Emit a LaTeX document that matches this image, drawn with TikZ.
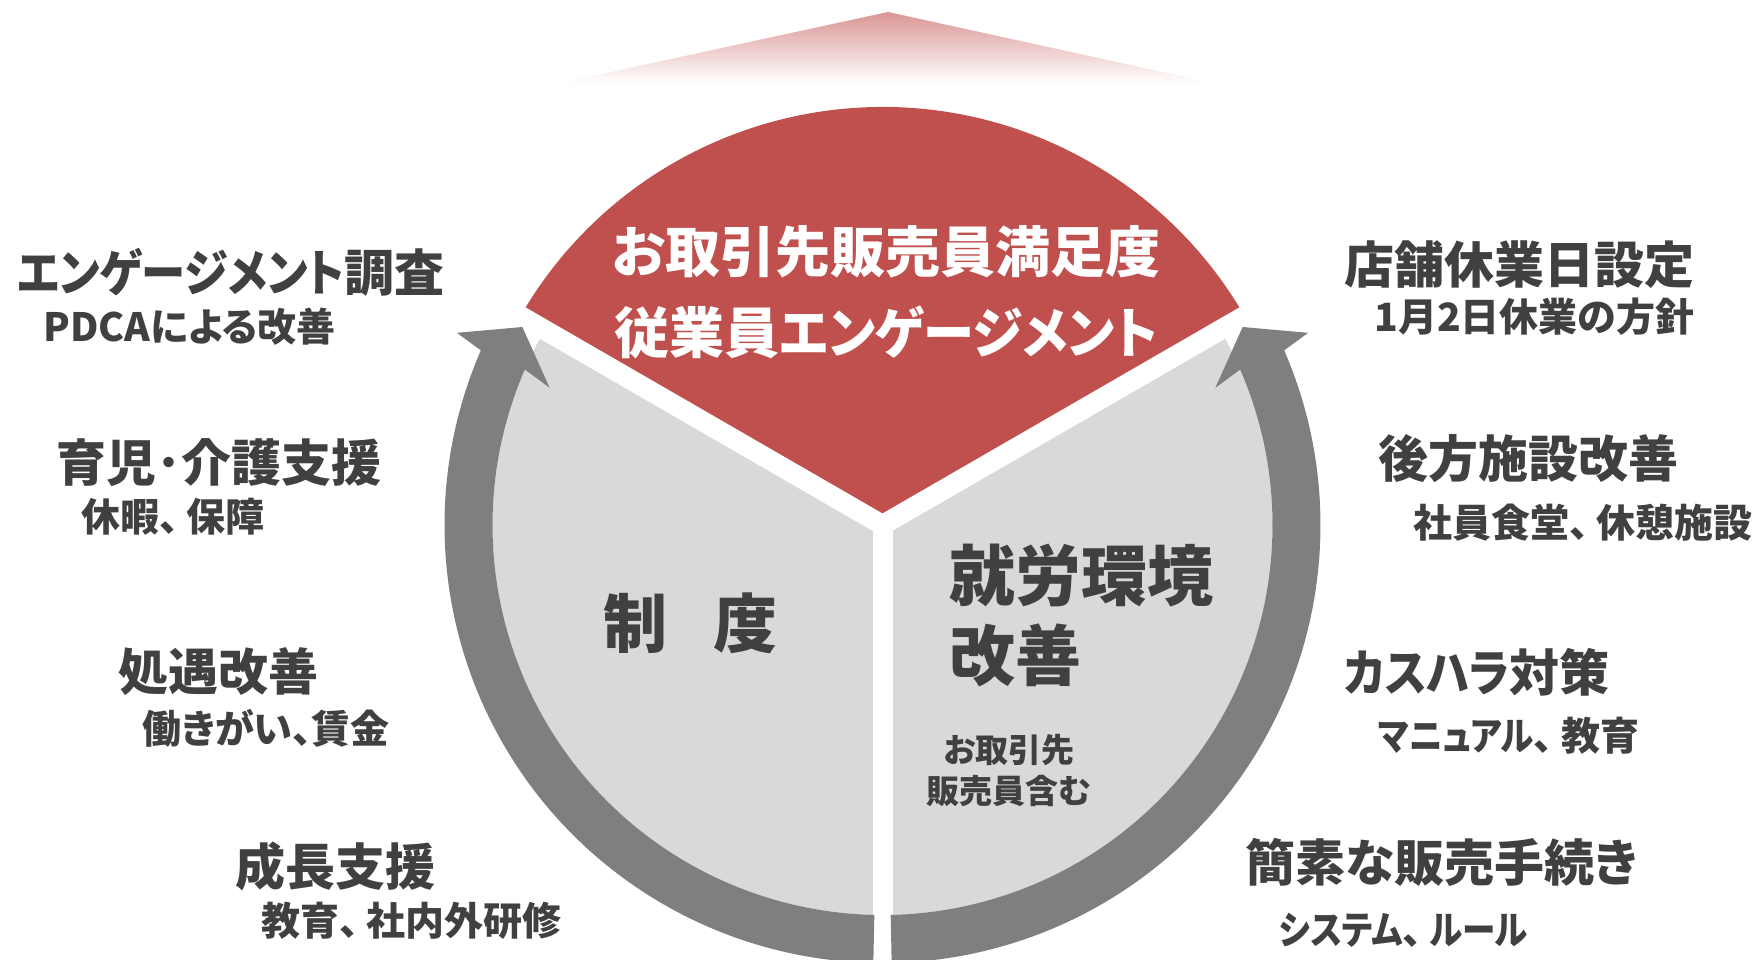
\documentclass[tikz,border=0pt]{standalone}
\usepackage{graphicx}
\usepackage{fontspec}
\newfontfamily\jp{Noto Sans CJK JP}[RawFeature=+palt]
\definecolor{accred}{HTML}{C0504D}
\definecolor{lgray}{HTML}{D9D9D9}
\definecolor{dgray}{HTML}{7F7F7F}
\definecolor{txt}{HTML}{404040}
\definecolor{pinktop}{HTML}{D99694}
\newcommand{\knt}[1]{\scalebox{0.93}[1]{#1}}
\newcommand{\knb}[1]{\scalebox{0.885}[1]{#1}}
\newcommand{\kns}[1]{\scalebox{0.86}[1]{#1}}
\newcommand{\tou}{、\hspace{0.2em}}
\tikzset{
  biglabel/.style={font=\jp\bfseries\fontsize{25pt}{30pt}\selectfont, text=txt, anchor=west, inner sep=0pt},
  smalllabel/.style={font=\jp\bfseries\fontsize{19.5pt}{24pt}\selectfont, text=txt, anchor=west, inner sep=0pt},
  ringarrow/.style={fill=dgray, draw=none},
  gapline/.style={draw=white, line width=10pt},
}
\begin{document}
\begin{tikzpicture}[x=0.5pt, y=-0.5pt]
\useasboundingbox (0,0) rectangle (1756,959);
% top gradient triangle
\shade[top color=pinktop, bottom color=white, draw=none] (888,12) -- (1213,83) -- (560,83) -- cycle;
\begin{scope}[shift={(882.5,525)}]
  \fill[lgray] (0,0) circle[radius=390];
  \fill[accred] (0,0) -- (210:418) arc[start angle=210, end angle=330, radius=418] -- cycle;
  \draw[gapline] (0,0) -- (210:430);
  \draw[gapline] (0,0) -- (330:430);
  \draw[gapline] (0,0) -- (90:395);
  % left arrow
  \fill[ringarrow] (91.2:390) -- (91.2:438) arc[start angle=91.2, end angle=203.5, radius=438]
     -- (204.3:467) -- (208.8:411) -- (202.4:360) -- (203.5:390)
     arc[start angle=203.5, end angle=91.2, radius=390] -- cycle;
  % right arrow
  \fill[ringarrow] (88.8:390) -- (88.8:438) arc[start angle=88.8, end angle=-23.5, radius=438]
     -- (-24.3:467) -- (-28.8:411) -- (-22.4:360) -- (-23.5:390)
     arc[start angle=-23.5, end angle=88.8, radius=390] -- cycle;
\end{scope}
% title
\node[font=\jp\bfseries\fontsize{27.5pt}{40.5pt}\selectfont, text=white, align=center, inner sep=0pt] (title) at (886,292) {お取引先販売員満足度\\従業員\knt{エンゲージメント}};
% centre labels
\node[font=\jp\bfseries\fontsize{32pt}{40pt}\selectfont, text=txt, anchor=west, inner sep=0pt] (seido) at (603,623) {制\hspace{23pt}度};
\node[font=\jp\bfseries\fontsize{33pt}{40pt}\selectfont, text=txt, anchor=west, align=left, inner sep=0pt] (shuro) at (949,616) {就労環境\\改善};
\node[font=\jp\bfseries\fontsize{16.5pt}{20.5pt}\selectfont, text=txt, align=center, inner sep=0pt] (torihiki) at (1009,771) {お取引先\\販売員含む};
% left column
\node[biglabel] (l1) at (17,272) {\knb{エンゲージメント}調査};
\node[smalllabel] (l1s) at (43,327) {PDCAによる改善};
\node[biglabel] (l2) at (56,463) {育児･介護支援};
\node[smalllabel] (l2s) at (81,517) {休暇\tou 保障};
\node[biglabel] (l3) at (118,672) {処遇改善};
\node[smalllabel] (l3s) at (142,728) {働きがい、賃金};
\node[biglabel] (l4) at (235,866) {成長支援};
\node[smalllabel] (l4s) at (261,921) {教育\tou 社内外研修};
% right column
\node[biglabel] (r1) at (1344,265) {店舗休業日設定};
\node[smalllabel] (r1s) at (1374,317) {1月2日休業の方針};
\node[biglabel] (r2) at (1378,459) {後方施設改善};
\node[smalllabel] (r2s) at (1413,523) {社員食堂\tou 休憩施設};
\node[biglabel] (r3) at (1344,672) {\knb{カスハラ}対策};
\node[smalllabel] (r3s) at (1378,736) {\kns{マニュアル}\tou 教育};
\node[biglabel] (r4) at (1245,862) {簡素な販売手続き};
\node[smalllabel] (r4s) at (1279,930) {\kns{システム}\tou\kns{ルール}};
\end{tikzpicture}
\end{document}
